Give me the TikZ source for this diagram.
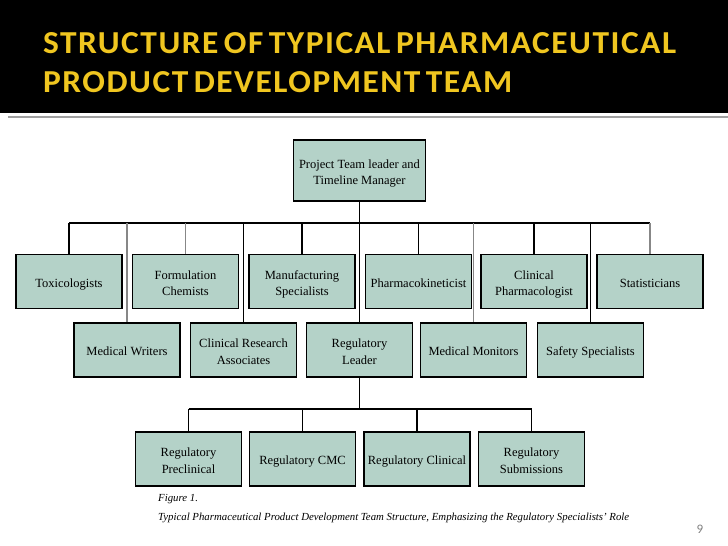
\documentclass[tikz,border=0pt]{standalone}
\usepackage{fontspec}
\setmainfont{Liberation Serif}
\newfontfamily\titlefont{Carlito}
\newfontfamily\headfont{Carlito}[LetterSpace=4.5, WordSpace=0.6]
\usetikzlibrary{calc,positioning}
\definecolor{titleyellow}{RGB}{240,198,32}
\definecolor{boxfill}{RGB}{180,210,200}
\definecolor{rulegray}{RGB}{160,160,160}
\definecolor{linkgray}{RGB}{135,135,135}
\tikzset{
  rolebox/.style={draw=black, line width=1.2pt, fill=boxfill, minimum width=106pt,
    minimum height=54pt, align=center, inner sep=2pt,
    font=\fontsize{12.5}{16.5}\selectfont,
    execute at begin node=\rule{0pt}{14pt},
    execute at end node=\rule[-3pt]{0pt}{3pt}},
  tworow/.style={execute at begin node=\rule{0pt}{31pt}},
  link/.style={line width=1.1pt},
  greylink/.style={line width=1.1pt, draw=linkgray},
  headline/.style={anchor=base west, inner sep=0pt, text=titleyellow,
    font=\headfont\bfseries\fontsize{32}{38}\selectfont},
}

\begin{document}
\begin{tikzpicture}[x=1pt,y=-1pt]
  % Page and header
  \useasboundingbox (0,0) rectangle (728,546);
  \fill[black] (0,0) rectangle (728,113);
  \draw[rulegray, line width=1.5pt] (8,117) -- (728,117);
  \node[headline] (title1) at (43,53) {\scalebox{1.045}[1]{STRUCTURE OF TYPICAL PHARMACEUTICAL}};
  \node[headline] (title2) at (43,92) {\scalebox{1.045}[1]{PRODUCT DEVELOPMENT TEAM}};
  % Team leader
  \node[rolebox, tworow, minimum width=132pt, minimum height=61pt] (lead) at (359.5,170.5)
    {Project Team leader and\\Timeline Manager};
  % First row
  \node[rolebox] (tox)          at (69,281.5)    {Toxicologists};
  \node[rolebox, tworow] (form) at (185.5,281.5) {Formulation\\Chemists};
  \node[rolebox, tworow] (manu) at (302,281.5)   {Manufacturing\\Specialists};
  \node[rolebox] (pk)           at (418.5,281.5) {Pharmacokineticist};
  \node[rolebox, tworow] (clph) at (534,281.5)   {Clinical\\Pharmacologist};
  \node[rolebox] (stat)         at (650,281.5)   {Statisticians};
  % Second row
  \node[rolebox] (mw)          at (127,350)   {Medical Writers};
  \node[rolebox, tworow] (cra) at (243.5,350) {Clinical Research\\Associates};
  \node[rolebox, tworow] (rl)  at (359.5,350) {Regulatory\\Leader};
  \node[rolebox] (mm)          at (473.5,350) {Medical Monitors};
  \node[rolebox] (ss)          at (590.5,350) {Safety Specialists};
  % Regulatory row
  \node[rolebox, tworow] (pre)  at (188.5,459) {Regulatory\\Preclinical};
  \node[rolebox] (cmc)          at (302.5,459) {Regulatory CMC};
  \node[rolebox] (rclin)        at (417,459)   {Regulatory Clinical};
  \node[rolebox, tworow] (subm) at (531.5,459) {Regulatory\\Submissions};
  % Connectors
  \coordinate (bus) at (0,223);
  \coordinate (subbus) at (0,409);
  \draw[link] (tox.north |- bus) -- (stat.north |- bus);
  \draw[link] (lead.south) -- (rl.north);
  \foreach \n in {tox,manu,pk,clph,cra,ss}
    \draw[link] (\n.north |- bus) -- (\n.north);
  \foreach \n in {form,stat,mw,mm}
    \draw[greylink] (\n.north |- bus) -- (\n.north);
  \draw[link] (rl.south) -- (rl.south |- subbus);
  \draw[link] (pre.north |- subbus) -- (subm.north |- subbus);
  \foreach \n in {pre,cmc,rclin,subm}
    \draw[link] (\n.north |- subbus) -- (\n.north);
  % Caption and page number
  \node[anchor=base west, inner sep=0pt, font=\itshape\fontsize{10.8}{12}\selectfont]
    (figlabel) at (158,501) {Figure 1.};
  \node[anchor=base west, inner sep=0pt, font=\itshape\fontsize{10.8}{12}\selectfont]
    (figcaption) at (158,520)
    {Typical Pharmaceutical Product Development Team Structure, Emphasizing the Regulatory Specialists' Role};
  \node[text=gray, font=\titlefont\fontsize{13}{15}\selectfont] (pagenum) at (700,529) {9};
\end{tikzpicture}
\end{document}
